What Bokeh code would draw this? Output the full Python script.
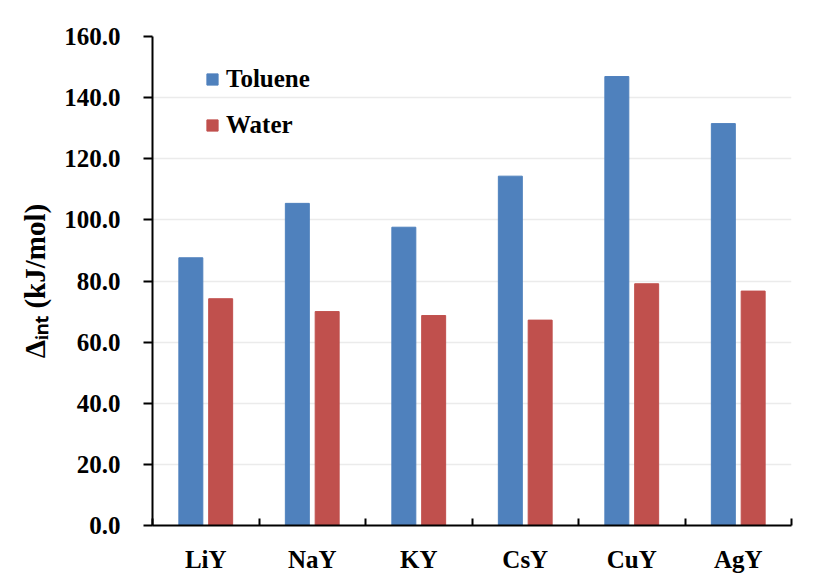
from bokeh.plotting import figure
from bokeh.models import (Range1d, FixedTicker, NumeralTickFormatter, ColumnDataSource,
                          Legend, LegendItem)
from bokeh.transform import dodge
from bokeh.embed import file_html
from bokeh.resources import INLINE

categories = ["LiY", "NaY", "KY", "CsY", "CuY", "AgY"]
toluene = [87.6, 105.4, 97.6, 114.3, 146.9, 131.5]
water = [74.2, 70.0, 68.7, 67.2, 79.1, 76.7]
y_ticks = [0, 20, 40, 60, 80, 100, 120, 140, 160]

FONT = "Liberation Serif"
BLUE = "#4F81BD"
RED = "#C0504D"

pos = [i + 0.5 for i in range(len(categories))]
src = ColumnDataSource(dict(x=pos, cat=categories, toluene=toluene, water=water))

p = figure(width=819, height=579, output_backend="svg", toolbar_location=None,
           x_range=Range1d(0, len(categories)), y_range=Range1d(0, 160),
           min_border_left=152, min_border_right=28, min_border_top=36, min_border_bottom=54)
p.outline_line_color = None
p.background_fill_color = "white"
p.border_fill_color = "white"

r1 = p.vbar(x=dodge("x", -0.14, range=p.x_range), top="toluene", width=0.225, source=src,
            fill_color=BLUE, line_color=BLUE, line_width=1)
r2 = p.vbar(x=dodge("x", 0.14, range=p.x_range), top="water", width=0.225, source=src,
            fill_color=RED, line_color=RED, line_width=1)

# grid
p.xgrid.grid_line_color = None
p.ygrid.grid_line_color = "#ebebeb"
p.ygrid.grid_line_width = 1.5
p.ygrid.ticker = FixedTicker(ticks=y_ticks)

# y axis
ya = p.yaxis[0]
ya.ticker = FixedTicker(ticks=y_ticks)
ya.formatter = NumeralTickFormatter(format="0.0")
ya.axis_line_width = 2
ya.axis_line_color = "black"
ya.major_tick_line_width = 2
ya.major_tick_line_color = "black"
ya.major_tick_in = 0
ya.major_tick_out = 9
ya.minor_tick_line_color = None
ya.major_label_standoff = 23
ya.major_label_text_font = FONT
ya.major_label_text_font_style = "bold"
ya.major_label_text_font_size = "25px"
ya.major_label_text_color = "black"
ya.axis_label = "Δᵢₙₜ (kJ/mol)"
ya.axis_label_text_font = FONT
ya.axis_label_text_font_style = "bold"
ya.axis_label_text_font_size = "29px"
ya.axis_label_text_color = "black"
ya.axis_label_standoff = 10

# x axis: labels at centers, ticks at boundaries
xa = p.xaxis[0]
xa.ticker = FixedTicker(ticks=pos, minor_ticks=list(range(len(categories) + 1)))
xa.major_label_overrides = {pv: c for pv, c in zip(pos, categories)}
xa.axis_line_width = 2
xa.axis_line_color = "black"
xa.major_tick_line_color = None
xa.minor_tick_line_color = "black"
xa.minor_tick_line_width = 2
xa.minor_tick_in = 7
xa.minor_tick_out = 0
xa.major_label_standoff = 14
xa.major_label_text_font = FONT
xa.major_label_text_font_style = "bold"
xa.major_label_text_font_size = "25px"
xa.major_label_text_color = "black"

legend = Legend(items=[LegendItem(label="Toluene", renderers=[r1]),
                       LegendItem(label="Water", renderers=[r2])],
                location=(53, 386))
legend.glyph_width = 14
legend.glyph_height = 14
legend.label_standoff = 7
legend.spacing = 18
legend.padding = 0
legend.margin = 0
legend.border_line_color = None
legend.background_fill_alpha = 0
legend.label_text_font = FONT
legend.label_text_font_style = "bold"
legend.label_text_font_size = "25px"
legend.label_text_color = "black"
p.add_layout(legend)

open("out.html", "w").write(file_html(p, INLINE))
